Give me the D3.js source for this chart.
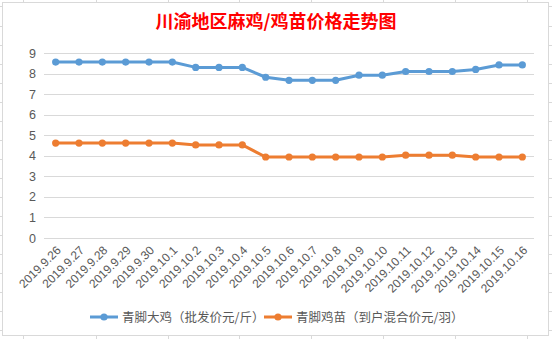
<!DOCTYPE html>
<html><head><meta charset="utf-8">
<script src="https://cdn.jsdelivr.net/npm/d3@7"></script>
<style>body{margin:0;background:#fff}svg{display:block}</style>
</head><body>
<script>
const categories = ["2019.9.26","2019.9.27","2019.9.28","2019.9.29","2019.9.30","2019.10.1","2019.10.2","2019.10.3","2019.10.4","2019.10.5","2019.10.6","2019.10.7","2019.10.8","2019.10.9","2019.10.10","2019.10.11","2019.10.12","2019.10.13","2019.10.14","2019.10.15","2019.10.16"];
const chickenPrice = [8.56,8.56,8.56,8.56,8.56,8.56,8.3,8.3,8.3,7.82,7.67,7.67,7.67,7.92,7.92,8.1,8.1,8.1,8.2,8.42,8.42];
const chickPrice = [4.62,4.62,4.62,4.62,4.62,4.62,4.53,4.53,4.53,3.94,3.94,3.94,3.94,3.94,3.94,4.03,4.03,4.03,3.94,3.94,3.94];
const seriesNames = ["青脚大鸡（批发价元/斤）","青脚鸡苗（到户混合价元/羽）"];
const yTicks = [0,1,2,3,4,5,6,7,8,9];
const title = "川渝地区麻鸡/鸡苗价格走势图";
const colors = ["#5B9BD5","#ED7D31"];

const W=552,H=339;
const svg=d3.select("body").append("svg").attr("width",W).attr("height",H);
const font="'Microsoft YaHei','Noto Sans CJK SC',sans-serif";

// spreadsheet cell lines peeking
const g0=svg.append("g").attr("stroke","#d9d9d9").attr("stroke-width",1);
[23,96,168,239,311,383,455,527].forEach(x=>{g0.append("line").attr("x1",x+0.5).attr("x2",x+0.5).attr("y1",0).attr("y2",2);g0.append("line").attr("x1",x+0.5).attr("x2",x+0.5).attr("y1",336).attr("y2",339);});
[6,26,45,64,83,102,121,140,159,178,197,216,235,254,273,292,311,330].forEach(y=>{g0.append("line").attr("x1",0).attr("x2",2).attr("y1",y+0.5).attr("y2",y+0.5);g0.append("line").attr("x1",549).attr("x2",552).attr("y1",y+0.5).attr("y2",y+0.5);});
svg.append("rect").attr("x",2.5).attr("y",2.5).attr("width",546).attr("height",333).attr("fill","#fff").attr("stroke","#d9d9d9");

const x=d3.scaleBand().domain(categories).range([44,534]);
const y=d3.scaleLinear().domain([0,9]).range([238,53]);

svg.append("text").attr("x",276).attr("y",28).attr("text-anchor","middle").attr("fill","#FF0000")
  .attr("font-family",font).attr("font-weight","bold").attr("font-size",18).text(title);

// gridlines
svg.append("g").selectAll("line").data(yTicks).join("line")
  .attr("x1",44).attr("x2",534).attr("y1",d=>Math.round(y(d))+0.5).attr("y2",d=>Math.round(y(d))+0.5)
  .attr("stroke","#d9d9d9").attr("stroke-width",1);

// y labels
const yAxis=d3.axisLeft(y).tickValues(yTicks).tickSize(0).tickPadding(0);
const ya=svg.append("g").attr("transform","translate(36,0)").call(yAxis);
ya.select(".domain").remove();
ya.selectAll("text").attr("fill","#595959").attr("font-size",12.5).attr("font-family","'Liberation Sans',Arial,sans-serif");

// x labels
const xAxis=d3.axisBottom(x).tickSize(0).tickPadding(0);
const xa=svg.append("g").attr("transform","translate(0,238)").call(xAxis);
xa.select(".domain").remove();
xa.selectAll("text").attr("fill","#595959").attr("font-size",12).attr("font-family","'Liberation Sans',Arial,sans-serif")
  .attr("text-anchor","end").attr("dy",null).attr("y",0)
  .attr("transform",d=>`translate(${6},${13}) rotate(-45)`);

const series=[chickenPrice,chickPrice];
series.forEach((vals,i)=>{
  const line=d3.line().x((d,j)=>x(categories[j])+x.bandwidth()/2).y(d=>y(d));
  svg.append("path").datum(vals).attr("d",line).attr("fill","none").attr("stroke",colors[i]).attr("stroke-width",3).attr("stroke-linejoin","round").attr("stroke-linecap","round");
  svg.append("g").selectAll("circle").data(vals).join("circle")
    .attr("cx",(d,j)=>x(categories[j])+x.bandwidth()/2).attr("cy",d=>y(d)).attr("r",3.6).attr("fill",colors[i]);
});

// legend
const leg=[{x1:90,tx:122},{x1:264,tx:296}];
seriesNames.forEach((n,i)=>{
  const l=leg[i];
  svg.append("line").attr("x1",l.x1).attr("x2",l.x1+28).attr("y1",317).attr("y2",317).attr("stroke",colors[i]).attr("stroke-width",3);
  svg.append("circle").attr("cx",l.x1+14).attr("cy",317).attr("r",3.6).attr("fill",colors[i]);
  svg.append("text").attr("x",l.tx).attr("y",321.5).attr("fill","#595959").attr("font-size",12.5).attr("font-family",font).text(n);
});
</script>
</body></html>
